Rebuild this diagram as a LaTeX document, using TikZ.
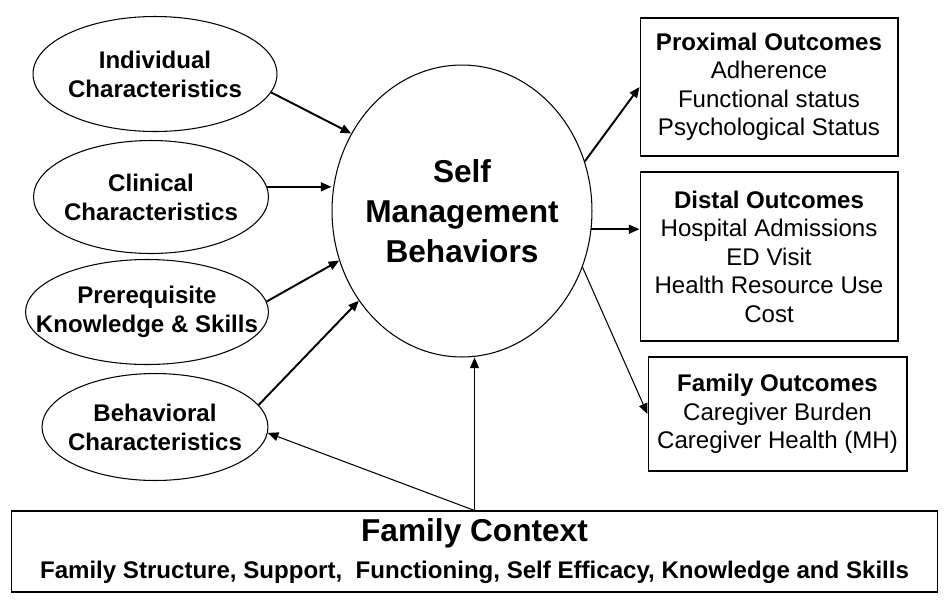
\documentclass[tikz,border=0pt]{standalone}
\usepackage{fontspec}
\setmainfont{Liberation Sans}
\usetikzlibrary{shapes.geometric, arrows.meta}
\tikzset{oval/.style = {draw, ellipse, line width = 0.6pt, inner xsep = -2.5cm, inner ysep = -1cm, align = center,
    font = \fontsize{13.7}{16.4}\selectfont\bfseries},
  box/.style = {draw, rectangle, line width = 0.6pt, inner sep = 0, align = center,
    font = \fontsize{13.7}{16.2}\selectfont},
  arr/.style = {-{Triangle[length = 6pt, width = 5pt]}, line width = 1.1pt},
  thinarr/.style = {-{Triangle[length = 6pt, width = 5pt]}, line width = 0.6pt}}

\begin{document}
\begin{tikzpicture}[x = 0.02cm, y = -0.02cm]
    \useasboundingbox (0, 0) rectangle (951, 606);

    \node [oval, minimum width = 4.88cm, minimum height = 2.3cm] (indiv) at (155, 74) {Individual\\Characteristics};
    \node [oval, minimum width = 4.7cm, minimum height = 2.26cm] (clin) at (151, 197) {Clinical\\Characteristics};
    \node [oval, minimum width = 4.86cm, minimum height = 2.1cm] (prereq) at (147, 312) {Prerequisite\\Knowledge \& Skills};
    \node [oval, minimum width = 4.52cm, minimum height = 2.14cm] (behav) at (155, 427) {Behavioral\\Characteristics};

    \node [oval, minimum width = 5.2cm, minimum height = 5.84cm, font = \fontsize{18}{22.7}\selectfont\bfseries]
      (sm) at (462, 211) {Self\\Management\\Behaviors};

    \node [box, minimum width = 5.16cm, minimum height = 2.76cm] (prox) at (769, 87)
      {\textbf{Proximal Outcomes}\\Adherence\\Functional status\\Psychological Status};
    \node [box, minimum width = 5.16cm, minimum height = 3.38cm] (distal) at (769, 256.5)
      {\textbf{Distal Outcomes}\\Hospital Admissions\\ED Visit\\Health Resource Use\\Cost};
    \node [box, minimum width = 5.18cm, minimum height = 2.28cm] (famout) at (777.5, 414)
      {\textbf{Family Outcomes}\\Caregiver Burden\\Caregiver Health (MH)};

    \node [box, minimum width = 18.54cm, minimum height = 1.62cm, font = \fontsize{13.7}{16.4}\selectfont\bfseries]
      (famctx) at (474.5, 551.5)
      {{\fontsize{18}{21}\selectfont Family Context}\\[4.6pt]
       Family Structure, Support,\ \ Functioning, Self Efficacy, Knowledge and Skills};

    \draw [arr] (indiv.-9) -- (sm.145);
    \draw [arr] (clin.5) -- (clin.5 -| sm.west);
    \draw [arr] (prereq.5) -- (sm.202);
    \draw [arr] (behav.12) -- (sm.221);

    \draw [thinarr] (famctx.north) -- (famctx.north |- sm.south);
    \draw [thinarr] (famctx.north) -- (behav.-3);

    \draw [arr] (sm.22) -- (prox.west);
    \draw [arr] (sm.-8) -- (sm.-8 -| distal.west);
    \draw [thinarr] (sm.-25) -- (famout.west);
  \end{tikzpicture}
\end{document}
